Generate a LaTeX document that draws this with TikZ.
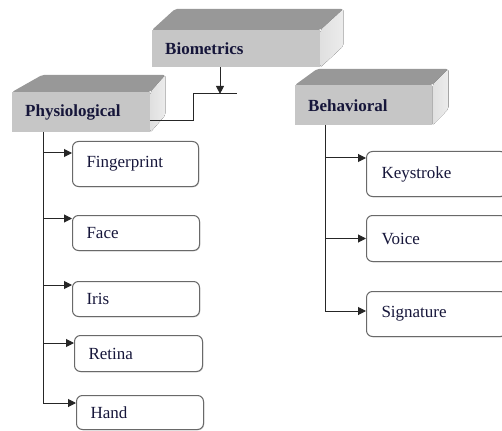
\documentclass[tikz,border=0pt]{standalone}
\usepackage{fontspec}
\setmainfont{Liberation Serif}
\usetikzlibrary{arrows.meta,calc,shadows}
\definecolor{ink}{RGB}{22,22,58}
\definecolor{frontc}{RGB}{198,198,198}
\definecolor{topc}{RGB}{152,152,152}
\definecolor{sidec}{RGB}{224,224,224}
\definecolor{sidec2}{RGB}{236,236,236}
\definecolor{edgec}{RGB}{105,105,105}
\begin{document}
\begin{tikzpicture}[x=1pt,y=-1pt,
  every node/.style={text=ink},
  face/.style={fill=frontc, draw=none, anchor=north west, inner xsep=13pt, inner ysep=0pt,
    align=left, font=\fontsize{17}{20}\selectfont\bfseries},
  topface/.style={fill=topc, rounded corners=2pt},
  sideface/.style={left color=sidec, right color=sidec2, rounded corners=2pt},
  rbox/.style={draw=edgec, line width=1pt, rounded corners=6pt, fill=white, anchor=north west,
    inner xsep=14pt, inner ysep=0pt, align=left, font=\fontsize{17}{20}\selectfont,
    drop shadow={shadow xshift=0.8pt, shadow yshift=-0.8pt, opacity=0.3, fill=gray}},
  conn/.style={line width=1pt, draw=black!85},
  arr/.style={conn, -{Triangle[length=8pt,width=8pt]}},
]
\useasboundingbox (0,0) rectangle (502,430);
\clip (0,0) rectangle (502,430);

% ---------- 3D header boxes ----------
\node[face, minimum height=37pt, text width=142pt] (bio) at (152,30) {Biometrics};
\fill[topface] (bio.north west) -- ++(23,-21) -- ($(bio.north east)+(23,-21)$) -- (bio.north east) -- cycle;
\fill[sideface] (bio.north east) -- ++(23,-21) -- ++(0,37) -- (bio.south east) -- cycle;

\node[face, minimum height=40pt, text width=112pt] (phy) at (12,92) {Physiological};
\fill[topface] (phy.north west) -- ++(30,-17) -- ($(phy.north east)+(15,-17)$) -- (phy.north east) -- cycle;
\fill[sideface] (phy.north east) -- ++(15,-17) -- ++(0,40) -- (phy.south east) -- cycle;

\node[face, minimum height=40pt, text width=111pt] (beh) at (295,85) {Behavioral};
\fill[topface] (beh.north west) -- ++(22,-16) -- ($(beh.north east)+(16,-16)$) -- (beh.north east) -- cycle;
\fill[sideface] (beh.north east) -- ++(16,-16) -- ++(0,40) -- (beh.south east) -- cycle;

% ---------- leaf boxes ----------
\node[rbox, minimum height=45pt, text width=98pt]  (fp)    at (72,141)  {Fingerprint};
\node[rbox, minimum height=35pt, text width=99pt]  (face)  at (72,215)  {Face};
\node[rbox, minimum height=35pt, text width=99pt]  (iris)  at (72,281)  {Iris};
\node[rbox, minimum height=36pt, text width=100pt] (ret)   at (74,335)  {Retina};
\node[rbox, minimum height=34pt, text width=99pt]  (hand)  at (76,395)  {Hand};
\node[rbox, minimum height=45pt, text width=110pt, inner xsep=15pt] (key)   at (366,151) {Keystroke};
\node[rbox, minimum height=46pt, text width=110pt, inner xsep=15pt] (voice) at (366,215) {Voice};
\node[rbox, minimum height=45pt, text width=110pt, inner xsep=15pt] (sig)   at (366,291) {Signature};

% ---------- Biometrics connector ----------
\coordinate (barL) at (193,94);
\coordinate (barR) at (237,94);
\coordinate (bioout) at ($(bio.south west)+(68,0)$);
\coordinate (bioin) at ($(bio.south west)+(68,26.5)$);
\draw[conn] (barL) -- (barR);
\draw[arr] (bioout) -- (bioin);
\draw[conn] (barL) |- ($(phy.south east)+(0,-12)$);

% ---------- Physiological branch ----------
\coordinate (ptop) at ($(phy.south west)+(31,0)$);
\coordinate (fpin)   at ($(fp.north west)+(0,12)$);
\coordinate (facein) at ($(face.north west)+(0,3.5)$);
\coordinate (irisin) at ($(iris.north west)+(0,4)$);
\coordinate (retin)  at ($(ret.north west)+(0,8)$);
\coordinate (handin) at ($(hand.north west)+(0,8)$);
\draw[arr] (ptop |- fpin) -- (fpin);
\draw[arr] (ptop |- facein) -- (facein);
\draw[arr] (ptop |- irisin) -- (irisin);
\draw[arr] (ptop |- retin) -- (retin);
\draw[arr] (ptop) |- (handin);

% ---------- Behavioral branch ----------
\coordinate (btop) at ($(beh.south west)+(30,0)$);
\coordinate (keyin) at ($(key.north west)+(0,7)$);
\coordinate (sigin) at ($(sig.north west)+(0,20)$);
\draw[arr] (btop |- keyin) -- (keyin);
\draw[arr] (btop |- voice.west) -- (voice.west);
\draw[arr] (btop) |- (sigin);
\end{tikzpicture}
\end{document}
